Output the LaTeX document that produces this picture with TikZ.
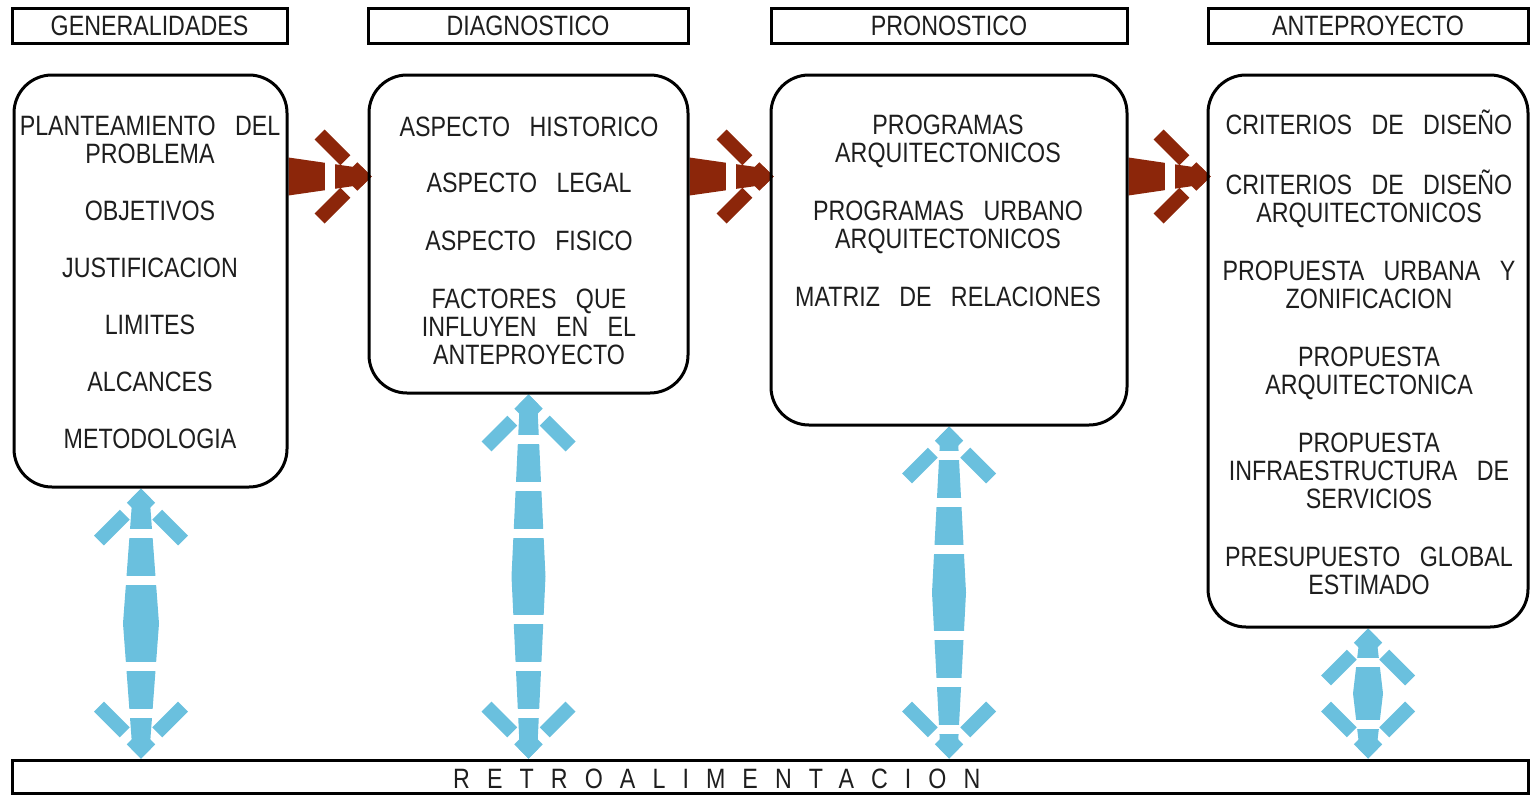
\documentclass[tikz,border=0pt]{standalone}
\usepackage{fontspec}
\setmainfont{Liberation Sans}[FakeStretch=0.83,WordSpace=3]
\newfontfamily\spacedfont{Liberation Sans}[FakeStretch=0.83,LetterSpace=61]
\usetikzlibrary{calc}
\pgfdeclarelayer{bg}
\pgfsetlayers{bg,main}
\definecolor{arrred}{RGB}{140,38,10}
\definecolor{arrblue}{RGB}{106,192,222}
\definecolor{ink}{RGB}{30,30,30}
\tikzset{
  every node/.style={font=\fontsize{28}{28}\selectfont, text=ink},
  box/.style={draw=black, line width=3pt, rounded corners=38pt, inner sep=0pt},
  hdr/.style={draw=black, line width=3pt, inner sep=0pt, text height=20pt, text depth=0pt},
  txt/.style={inner sep=0pt, text height=20pt, text depth=0pt},
  barb/.style={line width=14pt, dash pattern=on 20pt off 10pt on 40pt, line cap=butt},
}
\newcommand\biarrow[4]{%
  \coordinate (bt) at (#1); \coordinate (bb) at (#2);
  \coordinate (bm) at ($(bt)!0.5!(bb)$);
  \fill[arrblue] (bt) -- ($(bt)+(9,14)$) -- ($(bm)+(#4,0)$) -- ($(bb)+(9,-14)$) -- (bb)
     -- ($(bb)+(-9,-14)$) -- ($(bm)+(-#4,0)$) -- ($(bt)+(-9,14)$) -- cycle;
  \foreach \g in {#3} {
    \fill[white] ($(bm)+(-21,\g-4.5)$) rectangle ($(bm)+(21,\g+4.5)$);
    \fill[white] ($(bm)+(-21,-\g-4.5)$) rectangle ($(bm)+(21,-\g+4.5)$);
  }
  \draw[barb, arrblue] ($(bt)+(4.95,4.95)$) -- ++(-47,47);
  \draw[barb, arrblue] ($(bt)+(-4.95,4.95)$) -- ++(47,47);
  \draw[barb, arrblue] ($(bb)+(4.95,-4.95)$) -- ++(-47,-47);
  \draw[barb, arrblue] ($(bb)+(-4.95,-4.95)$) -- ++(47,-47);
}
\newcommand\redarrow[2]{%
  \coordinate (rt) at (#1); \coordinate (rp) at (#2);
  \fill[arrred] ($(rt)+(0,-19)$) -- ($(rp)+(-14,-9)$) -- (rp) -- ($(rp)+(-14,9)$) -- ($(rt)+(0,19)$) -- cycle;
  \fill[white] ($(rt)+(36,-25)$) rectangle ($(rt)+(46,25)$);
  \draw[barb, arrred] ($(rp)+(-4.95,4.95)$) -- ++(-47,-47);
  \draw[barb, arrred] ($(rp)+(-4.95,-4.95)$) -- ++(-47,47);
}
\begin{document}
\begin{tikzpicture}[x=1pt,y=-1pt]
\useasboundingbox (0,0) rectangle (1530,795);
% headers
\node[hdr, minimum width=275pt, minimum height=35pt] (h1) at (149.5,25.5) {GENERALIDADES};
\node[hdr, minimum width=320pt, minimum height=35pt] (h2) at (528,25.5) {DIAGNOSTICO};
\node[hdr, minimum width=356pt, minimum height=35pt] (h3) at (949,25.5) {PRONOSTICO};
\node[hdr, minimum width=320pt, minimum height=35pt] (h4) at (1368,25.5) {ANTEPROYECTO};
% boxes
\node[box, minimum width=273pt, minimum height=412pt] (b1) at (150.5,281) {};
\node[box, minimum width=319pt, minimum height=318pt] (b2) at (528.5,234) {};
\node[box, minimum width=356pt, minimum height=350pt] (b3) at (949,250) {};
\node[box, minimum width=320pt, minimum height=552pt] (b4) at (1368,351) {};
% bottom bar
\node[hdr, minimum width=1516pt, minimum height=33pt] (fb) at (770,776.5) {};
\node[txt, anchor=west, font=\fontsize{28}{28}\spacedfont] (rt) at (453,778) {RETROALIMENTACION};
% texts
\foreach \t/\y [count=\i] in {PLANTEAMIENTO DEL/125, PROBLEMA/153, OBJETIVOS/210, JUSTIFICACION/267, LIMITES/324, ALCANCES/381, METODOLOGIA/438}
  \node[txt] (ta\i) at (150,\y) {\t};
\foreach \t/\y [count=\i] in {ASPECTO HISTORICO/126, ASPECTO LEGAL/182, ASPECTO FISICO/240, FACTORES QUE/298, INFLUYEN EN EL/326, ANTEPROYECTO/354}
  \node[txt] (tb\i) at (529,\y) {\t};
\foreach \t/\y [count=\i] in {PROGRAMAS/124, ARQUITECTONICOS/152, PROGRAMAS URBANO/210, ARQUITECTONICOS/238, MATRIZ DE RELACIONES/296}
  \node[txt] (tc\i) at (948,\y) {\t};
\foreach \t/\y [count=\i] in {CRITERIOS DE DISEÑO/124, CRITERIOS DE DISEÑO/184, ARQUITECTONICOS/212, PROPUESTA URBANA Y/270, ZONIFICACION/298, PROPUESTA/356, ARQUITECTONICA/384, PROPUESTA/442, INFRAESTRUCTURA DE/470, SERVICIOS/498, PRESUPUESTO GLOBAL/556, ESTIMADO/584}
  \node[txt] (td\i) at (1369,\y) {\t};
% arrow end points
\coordinate (a1t) at ($(b1.south)+(-9.5,0)$);
\coordinate (a1b) at (a1t |- fb.north);
\coordinate (a2t) at (b2.south);
\coordinate (a2b) at (a2t |- fb.north);
\coordinate (a3t) at (b3.south);
\coordinate (a3b) at (a3t |- fb.north);
\coordinate (a4t) at (b4.south);
\coordinate (a4b) at (a4t |- fb.north);
\begin{pgfonlayer}{bg}
  \redarrow{$(b1.north east)+(0,103)$}{$(b2.north west)+(4,103)$}
  \redarrow{$(b2.north east)+(0,103)$}{$(b3.north west)+(4,103)$}
  \redarrow{$(b3.north east)+(0,103)$}{$(b4.north west)+(4,103)$}
  \biarrow{a1t}{a1b}{43,90}{18}
  \biarrow{a2t}{a2b}{43,90,137}{17}
  \biarrow{a3t}{a3b}{43,90,137}{17}
  \biarrow{a4t}{a4b}{31}{15}
\end{pgfonlayer}
\end{tikzpicture}
\end{document}
